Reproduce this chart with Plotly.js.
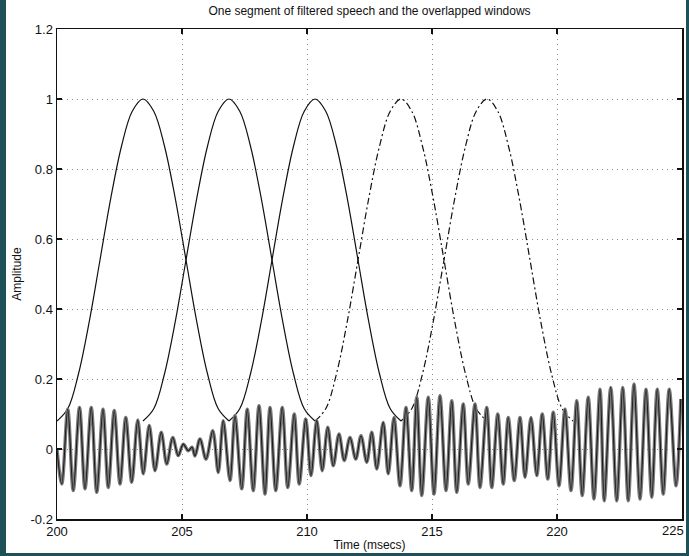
<!DOCTYPE html>
<html>
<head>
<meta charset="utf-8">
<script src="https://cdn.plot.ly/plotly-3.0.1.min.js"></script>
<style>
  html, body { margin: 0; padding: 0; background: #1f4f57; }
  #wrap { position: absolute; left: 6px; top: 0px; width: 680px; height: 553px; overflow: hidden; background: #fff; }
  #chart { width: 700px; height: 560px; }
</style>
</head>
<body>
<div id="wrap"><div id="chart"></div></div>
<script>
// Speech signal: alternating peaks/troughs (time in ms, amplitude)
const signalTime = [200.00,200.19,200.43,200.65,200.90,201.12,201.37,201.59,201.84,202.05,202.29,202.52,202.75,202.99,203.23,203.45,203.69,203.92,204.17,204.39,204.63,204.85,205.05,205.25,205.40,205.52,205.72,205.96,206.23,206.45,206.65,206.92,207.12,207.39,207.61,207.85,208.08,208.32,208.52,208.75,209.01,209.23,209.49,209.69,209.95,210.16,210.39,210.61,210.83,211.05,211.28,211.49,211.72,211.95,212.16,212.39,212.59,212.79,213.05,213.25,213.48,213.72,213.96,214.19,214.39,214.59,214.85,215.08,215.32,215.56,215.79,215.99,216.25,216.45,216.72,216.92,217.19,217.39,217.63,217.85,218.05,218.29,218.52,218.72,218.96,219.19,219.41,219.63,219.85,220.08,220.32,220.56,220.79,221.01,221.25,221.48,221.72,221.89,222.15,222.39,222.63,222.85,223.08,223.32,223.56,223.79,224.01,224.25,224.49,224.76,224.95];
const signalAmp = [0.000,-0.100,0.114,-0.119,0.119,-0.114,0.119,-0.124,0.114,-0.110,0.110,-0.100,0.090,-0.095,0.083,-0.071,0.067,-0.062,0.048,-0.043,0.033,-0.019,0.014,-0.005,0.005,-0.020,0.029,-0.029,0.052,-0.067,0.081,-0.090,0.095,-0.114,0.114,-0.119,0.124,-0.129,0.119,-0.119,0.119,-0.110,0.100,-0.100,0.086,-0.076,0.081,-0.062,0.062,-0.048,0.043,-0.033,0.033,-0.029,0.038,-0.038,0.048,-0.057,0.076,-0.071,0.090,-0.105,0.119,-0.119,0.148,-0.133,0.148,-0.129,0.152,-0.119,0.138,-0.124,0.129,-0.100,0.129,-0.110,0.119,-0.110,0.100,-0.100,0.090,-0.090,0.090,-0.081,0.090,-0.076,0.100,-0.086,0.105,-0.105,0.114,-0.119,0.138,-0.133,0.148,-0.143,0.171,-0.148,0.176,-0.148,0.176,-0.148,0.186,-0.143,0.171,-0.138,0.171,-0.129,0.171,-0.105,0.143];

// Overlapped windows: start times (ms), window length (ms) and shape
const windowStarts = [200.00, 203.44, 206.88, 210.32, 213.76];
const windowLength = 6.88;
const windowShape = [0.08,0.115,0.215,0.364,0.54,0.716,0.865,0.965,1.0,0.965,0.865,0.716,0.54,0.364,0.215,0.115,0.08];
const windowDash = ['solid','solid','solid','dashdot','dashdot'];

// Axis ticks
const xTickVals = [200, 205, 210, 215, 220, 225];
const xTickText = ['200', '205', '210', '215', '220', '225'];
const yTickVals = [-0.2, 0, 0.2, 0.4, 0.6, 0.8, 1, 1.2];
const yTickText = ['-0.2', '0', '0.2', '0.4', '0.6', '0.8', '1', '1.2'];

const lastIdx = xTickVals.length - 1;
const axisText = xTickText.map((t, i) => (i === lastIdx ? '' : t));

const traces = [];
windowStarts.forEach((s, k) => {
  const n = windowShape.length - 1;
  traces.push({
    x: windowShape.map((_, i) => s + windowLength * i / n),
    y: windowShape,
    type: 'scatter', mode: 'lines',
    line: { color: '#111', width: 1.2, dash: windowDash[k] === 'dashdot' ? '7px,3px,2px,3px' : 'solid', shape: 'spline', smoothing: 1 },
    hoverinfo: 'skip', showlegend: false
  });
});
traces.push({
  x: signalTime, y: signalAmp, type: 'scatter', mode: 'lines',
  line: { color: '#7a7a7a', width: 3.4, shape: 'spline', smoothing: 1 },
  showlegend: false
});
traces.push({
  x: signalTime, y: signalAmp, type: 'scatter', mode: 'lines',
  line: { color: '#1a1a1a', width: 1.1, shape: 'spline', smoothing: 1 },
  showlegend: false
});

const font = { family: 'Liberation Sans, Arial, Helvetica, sans-serif', color: '#111' };
const layout = {
  width: 700, height: 560,
  margin: { l: 51, r: 24, t: 29, b: 41 },
  paper_bgcolor: '#fff', plot_bgcolor: '#fff',
  font: Object.assign({ size: 13 }, font),
  title: { text: 'One segment of filtered speech and the overlapped windows',
           font: Object.assign({ size: 12 }, font),
           x: 0.5, xref: 'paper', y: 1 - 11 / 560, yref: 'container', yanchor: 'middle' },
  xaxis: {
    range: [200, 225], tickvals: xTickVals, ticktext: axisText,
    ticks: 'inside', ticklen: 5, tickwidth: 1.2, tickcolor: '#111',
    showline: true, linecolor: '#111', linewidth: 1.5, mirror: 'ticks',
    showgrid: true, gridcolor: '#8a8a8a', griddash: '1px,4px', gridwidth: 1,
    zeroline: false, tickfont: Object.assign({ size: 13 }, font),
    title: { text: 'Time (msecs)', font: Object.assign({ size: 12 }, font), standoff: 2 }
  },
  yaxis: {
    range: [-0.2, 1.2], tickvals: yTickVals, ticktext: yTickText,
    ticks: 'inside', ticklen: 5, tickwidth: 1.2, tickcolor: '#111',
    showline: true, linecolor: '#111', linewidth: 1.5, mirror: 'ticks',
    showgrid: true, gridcolor: '#8a8a8a', griddash: '1px,4px', gridwidth: 1,
    zeroline: false, tickfont: Object.assign({ size: 13 }, font),
    title: { text: 'Amplitude', font: Object.assign({ size: 12 }, font), standoff: 6 }
  },
  annotations: [{
    text: xTickText[lastIdx], x: xTickVals[lastIdx], xref: 'x', y: 0, yref: 'paper',
    xanchor: 'right', yanchor: 'top', xshift: 4, yshift: -2, showarrow: false,
    font: Object.assign({ size: 13 }, font)
  }]
};
Plotly.newPlot('chart', traces, layout, { displayModeBar: false, staticPlot: true });
</script>
</body>
</html>
